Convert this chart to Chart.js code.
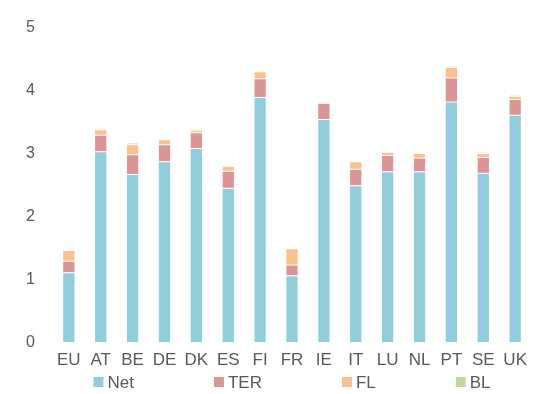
<!DOCTYPE html>
<html>
<head>
<meta charset="utf-8">
<script src="https://cdn.jsdelivr.net/npm/chart.js@4.4.1/dist/chart.umd.min.js"></script>
<style>
  html, body { margin: 0; padding: 0; background: #ffffff; }
  #wrap { width: 535px; height: 394px; position: relative; }
</style>
</head>
<body>
<div id="wrap"><canvas id="c" width="535" height="394"></canvas></div>
<script>
const categories = ["EU","AT","BE","DE","DK","ES","FI","FR","IE","IT","LU","NL","PT","SE","UK"];
const seriesNames = ["Net","TER","FL","BL"];
const netValues = [1.11, 3.03, 2.67, 2.87, 3.08, 2.45, 3.89, 1.06, 3.54, 2.49, 2.71, 2.71, 3.82, 2.69, 3.61];
const terValues = [0.18, 0.26, 0.31, 0.27, 0.25, 0.27, 0.30, 0.17, 0.26, 0.26, 0.26, 0.22, 0.38, 0.25, 0.25];
const flValues  = [0.17, 0.09, 0.16, 0.08, 0.04, 0.08, 0.11, 0.26, 0.02, 0.12, 0.05, 0.07, 0.17, 0.06, 0.05];
const blValues  = [0.00, 0.02, 0.03, 0.01, 0.02, 0.01, 0.02, 0.00, 0.01, 0.01, 0.01, 0.01, 0.02, 0.02, 0.02];
const yTickValues = [0, 1, 2, 3, 4, 5];

const colors = ["#92CDDC", "#DA9694", "#FAC090", "#C4D79B"];
const allValues = [netValues, terValues, flValues, blValues];

const datasets = seriesNames.map((name, i) => ({
  label: name,
  data: allValues[i],
  backgroundColor: colors[i],
  borderColor: "rgba(255,255,255,0.4)",
  borderWidth: { left: 1, right: 1, top: 0.5, bottom: 0.5 },
  borderSkipped: false,
  categoryPercentage: 0.8,
  barPercentage: 0.52
}));

const textColor = "#595959";
const fontFamily = "'Liberation Sans', Arial, sans-serif";

// Evenly gapped bottom legend (Excel style), drawn from the chart's datasets
const spacedLegend = {
  id: "spacedLegend",
  afterDraw(chart) {
    const ctx = chart.ctx;
    const box = 10, boxGap = 4, itemGap = 80;
    ctx.save();
    ctx.font = "17px " + fontFamily;
    ctx.textBaseline = "middle";
    ctx.textAlign = "left";
    const items = chart.data.datasets.map(ds => ({
      text: ds.label, color: ds.backgroundColor,
      w: box + boxGap + ctx.measureText(ds.label).width
    }));
    const total = items.reduce((s, it) => s + it.w, 0) + itemGap * (items.length - 1);
    const ca = chart.chartArea;
    let x = (ca.left + ca.right) / 2 - total / 2;
    const y = chart.height - 12;
    items.forEach(it => {
      ctx.fillStyle = it.color;
      ctx.fillRect(x, y - box / 2, box, box);
      ctx.fillStyle = textColor;
      ctx.fillText(it.text, x + box + boxGap, y + 1);
      x += it.w + itemGap;
    });
    ctx.restore();
  }
};

new Chart(document.getElementById("c"), {
  type: "bar",
  data: { labels: categories, datasets: datasets },
  options: {
    responsive: false,
    animation: false,
    layout: { padding: { top: 19, left: 8, right: 1, bottom: 15 } },
    plugins: {
      title: { display: false },
      tooltip: { enabled: false },
      legend: { display: false }
    },
    scales: {
      x: {
        stacked: true,
        grid: { display: false, drawTicks: false },
        border: { display: false },
        ticks: {
          color: textColor,
          font: { family: fontFamily, size: 17 },
          padding: 8,
          maxRotation: 0,
          autoSkip: false
        }
      },
      y: {
        stacked: true,
        min: 0,
        max: 5,
        afterBuildTicks: (axis) => { axis.ticks = yTickValues.map(v => ({ value: v })); },
        grid: { display: false, drawTicks: false },
        border: { display: false },
        ticks: {
          color: textColor,
          font: { family: fontFamily, size: 16 },
          padding: 18
        }
      }
    }
  },
  plugins: [spacedLegend]
});
</script>
</body>
</html>
